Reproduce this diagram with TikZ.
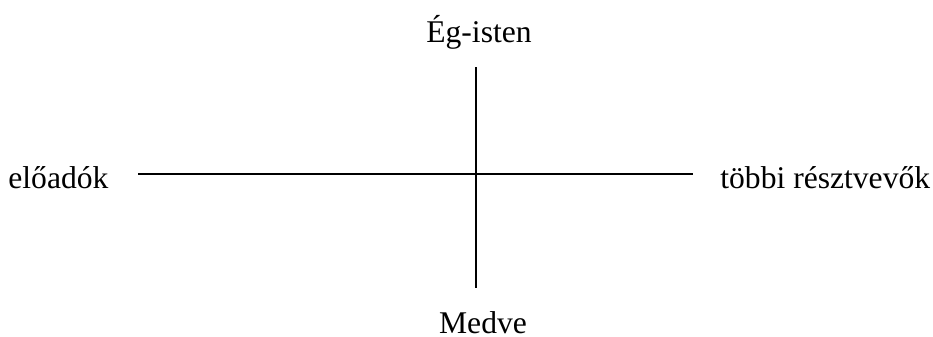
\documentclass[tikz,border=0pt]{standalone}
\usepackage{fontspec}
\setmainfont{Liberation Serif}
\usetikzlibrary{positioning}

\begin{document}
\begin{tikzpicture}[x=0.5pt,y=-0.5pt,
    axis label/.style={font=\fontsize{15.8}{19}\selectfont,inner sep=0pt},
    axis line/.style={line width=1pt}
]
    \useasboundingbox (0,0) rectangle (933,337);
    \node[axis label,anchor=base] (top label) at (479,42) {Ég-isten};
    \node[axis label,anchor=base] (bottom label) at (483,333) {Medve};
    \node[axis label,anchor=base west] (left label) at (8,188) {előadók};
    \node[axis label,anchor=base west] (right label) at (720,188) {többi résztvevők};

    \coordinate (north end) at (476,67);
    \coordinate (south end) at (476,288);
    \coordinate (west end) at (138,174);
    \coordinate (east end) at (693,174);
    \draw[axis line] (west end) -- (east end);
    \draw[axis line] (north end) -- (south end);
\end{tikzpicture}
\end{document}
